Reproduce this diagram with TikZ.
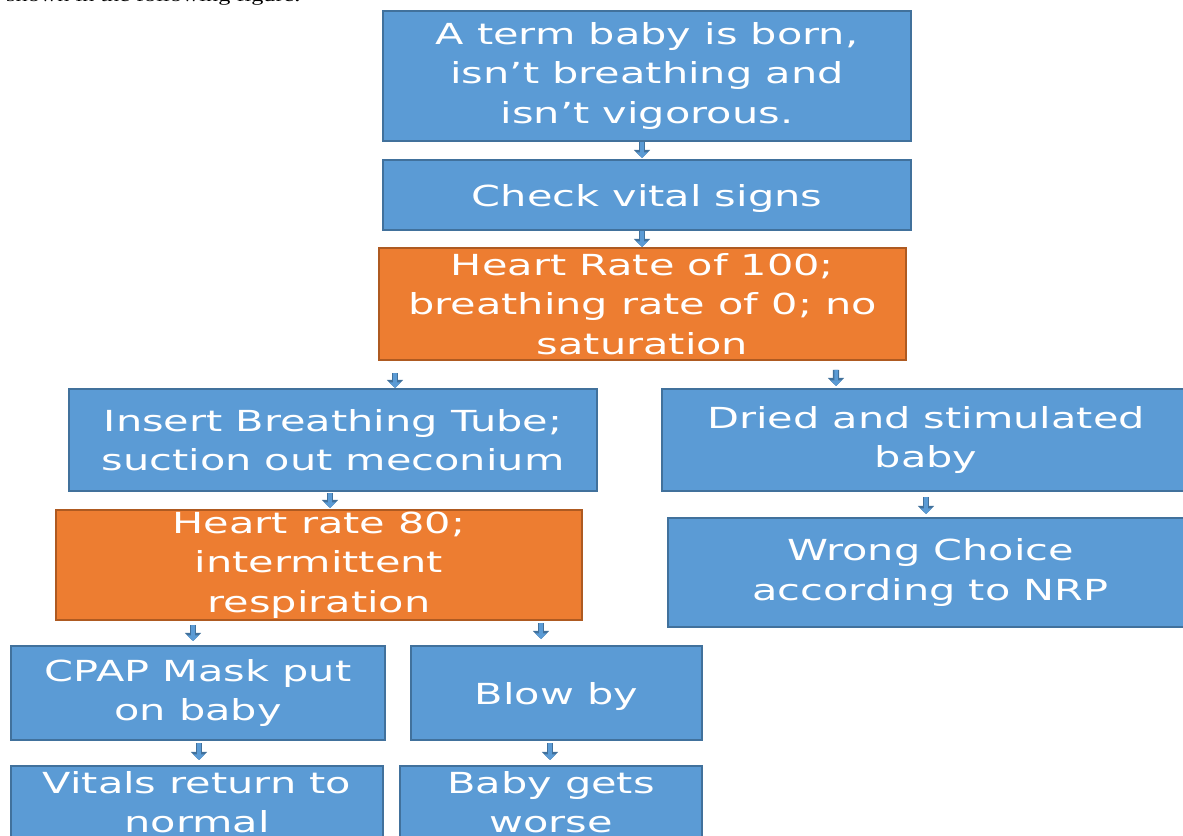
\documentclass[tikz,border=0pt]{standalone}
\usepackage{fontspec}
\usetikzlibrary{arrows.meta}
\newfontfamily\boxfont[FakeStretch=1.43]{DejaVu Sans}
\newfontfamily\capfont[FakeStretch=1.38]{Liberation Serif}
\definecolor{boxblue}{HTML}{5B9BD5}
\definecolor{blueline}{HTML}{41719C}
\definecolor{boxorange}{HTML}{ED7D31}
\definecolor{orangeline}{HTML}{AE5A21}
\tikzset{
  stepbox/.style={draw=blueline, fill=boxblue, line width=1.2pt, outer sep=0pt,
    text=white, align=center, inner sep=0pt,
    font=\boxfont\fontsize{16.5}{22.5}\selectfont,
    execute at begin node={\rule{0pt}{16.5pt}}},
  findbox/.style={stepbox, draw=orangeline, fill=boxorange}
}
\newcommand{\flowdown}[4]{%
  \draw[flowarr] ([shift={(#3)}]#1.south) -- ([shift={(#4)}]#2.north);%
}

\begin{document}
\begin{tikzpicture}[x=0.02cm,y=-0.02cm]

  % --- styles ---
  \tikzset{
    flowarr/.style={draw=blueline, line width=3.6pt,
      -{Triangle[width=9pt,length=4.6pt]},
      postaction={draw=boxblue, line width=2pt,
        -{Triangle[width=6.2pt,length=3.2pt]}}},
  }

  % --- page & clip ---
  \useasboundingbox (0,0) rectangle (1183,835);
  \clip (0,0) rectangle (1183,835);

  \node[anchor=base west, font=\capfont\fontsize{10}{12}\selectfont] (cap)
    at (0,1.5) {shown in the following figure.};

  % =========================
  %  MAIN COLUMN
  % =========================

  \node[stepbox, minimum width=10.56cm, minimum height=2.6cm,
    execute at begin node={\rule{0pt}{21pt}}] (born) at (647,76)
    {A term baby is born,\\ isn’t breathing and\\ isn’t vigorous.};
  \node[stepbox, minimum width=10.56cm, minimum height=1.4cm] (check) at (647,195)
    {Check vital signs};
  \node[findbox, minimum width=10.54cm, minimum height=2.24cm] (hrhundred) at (642.5,304)
    {Heart Rate of 100;\\ breathing rate of 0; no\\ saturation};

  % =========================
  %  BRANCHES
  % =========================

  \node[stepbox, minimum width=10.56cm, minimum height=2.04cm] (tube) at (333,440)
    {Insert Breathing Tube;\\ suction out meconium};
  \node[stepbox, minimum width=10.56cm, minimum height=2.04cm] (dried) at (926,440)
    {Dried and stimulated\\ baby};
  \node[findbox, minimum width=10.52cm, minimum height=2.2cm] (hreighty) at (319,565)
    {Heart rate 80;\\ intermittent\\ respiration};
  \node[stepbox, minimum width=10.5cm, minimum height=2.18cm] (wrong) at (930.5,572.5)
    {Wrong Choice\\ according to NRP};
  \node[stepbox, minimum width=7.48cm, minimum height=1.88cm] (cpap) at (198,693)
    {CPAP Mask put\\ on baby};
  \node[stepbox, minimum width=5.82cm, minimum height=1.88cm] (blow) at (556.5,693)
    {Blow by};
  \node[stepbox, minimum width=7.44cm, minimum height=1.44cm] (vitals) at (197,802)
    {Vitals return to\\ normal};
  \node[stepbox, minimum width=6.04cm, minimum height=1.44cm] (worse) at (551,802)
    {Baby gets\\ worse};

  % =========================
  %  ARROWS
  % =========================

  \flowdown{born}{check}{-5,1}{-5,-2}
  \flowdown{check}{hrhundred}{-5,1}{-0.5,-1}
  \flowdown{hrhundred}{tube}{-247.5,13}{62,-1}
  \flowdown{hrhundred}{dried}{193.5,10}{-90,-3}
  \flowdown{tube}{hreighty}{-3,2}{11,-2}
  \flowdown{dried}{wrong}{0,6}{-4.5,-4}
  \flowdown{hreighty}{cpap}{-126,5}{-5,-5}
  \flowdown{hreighty}{blow}{222,3}{-15.5,-7}
  \flowdown{cpap}{vitals}{1,3}{2,-6}
  \flowdown{blow}{worse}{-6.5,3}{-1,-6}

\end{tikzpicture}
\end{document}
